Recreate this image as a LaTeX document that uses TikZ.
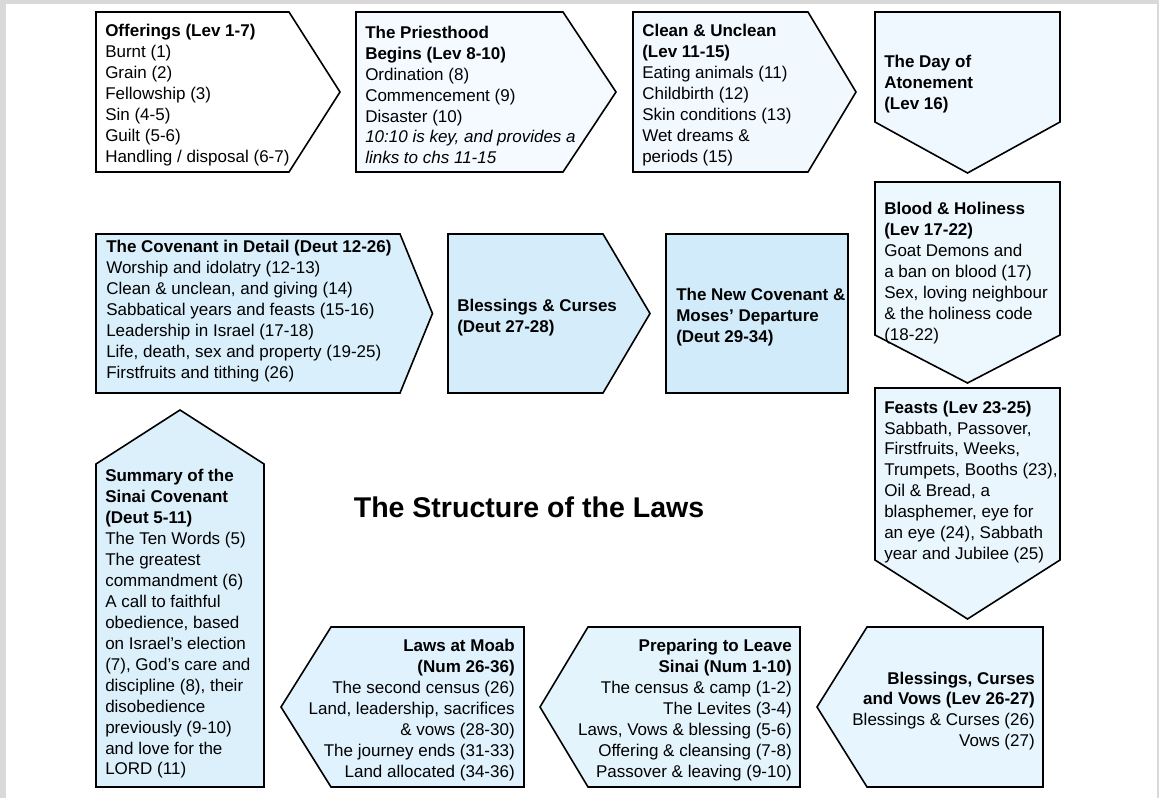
\documentclass[tikz,border=0pt]{standalone}
\usepackage{fontspec}
\setmainfont{Liberation Sans}
\definecolor{framegrey}{RGB}{217,217,217}
\definecolor{cA}{RGB}{255,255,255}
\definecolor{cB}{RGB}{244,250,255}
\definecolor{cC}{RGB}{241,249,255}
\definecolor{cD}{RGB}{239,248,255}
\definecolor{cE}{RGB}{237,247,254}
\definecolor{cF}{RGB}{234,246,254}
\definecolor{cG}{RGB}{231,245,254}
\definecolor{cH}{RGB}{228,244,253}
\definecolor{cI}{RGB}{224,242,253}
\definecolor{cJ}{RGB}{220,240,252}
\definecolor{cK}{RGB}{217,239,252}
\definecolor{cL}{RGB}{213,237,251}
\definecolor{cM}{RGB}{209,235,250}
\begin{document}
\begin{tikzpicture}[x=0.75pt,y=-0.75pt]
\tikzset{
  shp/.style={draw=black, line width=1.2pt, line join=miter},
  txtl/.style={inner sep=0pt, font=\fontsize{12.75pt}{15.7pt}\selectfont, align=left, anchor=west},
  txtr/.style={inner sep=0pt, font=\fontsize{12.75pt}{15.7pt}\selectfont, align=right, anchor=east},
  ttl/.style={inner sep=0pt, font=\fontsize{21.4pt}{25pt}\selectfont\bfseries}
}
\useasboundingbox (0,0) rectangle (1159,798);
\fill[framegrey] (0,0) rectangle (1159,798);
\fill[white] (6,4) rectangle (1157,798);

% top row
\draw[shp, fill=cA] (96,12) -- (289,12) -- (340,92) -- (289,172) -- (96,172) -- cycle;
\draw[shp, fill=cB] (356,12) -- (563,12) -- (616,92) -- (563,172) -- (356,172) -- cycle;
\draw[shp, fill=cC] (633,12) -- (808,12) -- (856,92) -- (808,172) -- (633,172) -- cycle;
\draw[shp, fill=cD] (875,12) -- (1060,12) -- (1060,122) -- (967.5,173) -- (875,122) -- cycle;
% right column
\draw[shp, fill=cE] (875,182) -- (1060,182) -- (1060,335) -- (967.5,383) -- (875,335) -- cycle;
\draw[shp, fill=cF] (875,388) -- (1060,388) -- (1060,560) -- (967.5,619) -- (875,560) -- cycle;
% bottom row
\draw[shp, fill=cG] (867,627) -- (1043,627) -- (1043,787) -- (867,787) -- (817,707) -- cycle;
\draw[shp, fill=cH] (588,627) -- (800,627) -- (800,787) -- (588,787) -- (540,707) -- cycle;
\draw[shp, fill=cI] (331,627) -- (524,627) -- (524,787) -- (331,787) -- (281,707) -- cycle;
% left column
\draw[shp, fill=cJ] (96,464) -- (180,410) -- (264,464) -- (264,787) -- (96,787) -- cycle;
% middle row
\draw[shp, fill=cK] (96,234) -- (400,234) -- (432.5,313.5) -- (400,393) -- (96,393) -- cycle;
\draw[shp, fill=cL] (448,234) -- (603,234) -- (650,313.5) -- (603,393) -- (448,393) -- cycle;
\draw[shp, fill=cM] (666,234) rectangle (848,393);

% texts
\node[txtl] (offerings) at (105,95) {\textbf{Offerings (Lev 1-7)}\\Burnt (1)\\Grain (2)\\Fellowship (3)\\Sin (4-5)\\Guilt (5-6)\\Handling / disposal (6-7)};
\node[txtl] (priesthood) at (365,95) {\textbf{The Priesthood}\\\textbf{Begins (Lev 8-10)}\\Ordination (8)\\Commencement (9)\\Disaster (10)\\\textit{10:10 is key, and provides a}\\\textit{links to chs 11-15}};
\node[txtl] (clean) at (642,95) {\textbf{Clean \& Unclean}\\\textbf{(Lev 11-15)}\\Eating animals (11)\\Childbirth (12)\\Skin conditions (13)\\Wet dreams \&\\periods (15)};
\node[txtl] (day) at (884,84) {\textbf{The Day of}\\\textbf{Atonement}\\\textbf{(Lev 16)}};
\node[txtl] (blood) at (884,273) {\textbf{Blood \& Holiness}\\\textbf{(Lev 17-22)}\\Goat Demons and\\a ban on blood (17)\\Sex, loving neighbour\\\& the holiness code\\(18-22)};
\node[txtl] (feasts) at (884,482) {\textbf{Feasts (Lev 23-25)}\\Sabbath, Passover,\\Firstfruits, Weeks,\\Trumpets, Booths (23),\\Oil \& Bread, a\\blasphemer, eye for\\an eye (24), Sabbath\\year and Jubilee (25)};
\node[txtr] (bcv) at (1035,711) {\textbf{Blessings, Curses}\\\textbf{and Vows (Lev 26-27)}\\Blessings \& Curses (26)\\Vows (27)};
\node[txtr] (preparing) at (792,710) {\textbf{Preparing to Leave}\\\textbf{Sinai (Num 1-10)}\\The census \& camp (1-2)\\The Levites (3-4)\\Laws, Vows \& blessing (5-6)\\Offering \& cleansing (7-8)\\Passover \& leaving (9-10)};
\node[txtr] (moab) at (515,710) {\textbf{Laws at Moab}\\\textbf{(Num 26-36)}\\The second census (26)\\Land, leadership, sacrifices\\\& vows (28-30)\\The journey ends (31-33)\\Land allocated (34-36)};
\node[txtl] (summary) at (105,624) {\textbf{Summary of the}\\\textbf{Sinai Covenant}\\\textbf{(Deut 5-11)}\\The Ten Words (5)\\The greatest\\commandment (6)\\A call to faithful\\obedience, based\\on Israel’s election\\(7), God’s care and\\discipline (8), their\\disobedience\\previously (9-10)\\and love for the\\LORD (11)};
\node[txtl] (covenant) at (106,311) {\textbf{The Covenant in Detail (Deut 12-26)}\\Worship and idolatry (12-13)\\Clean \& unclean, and giving (14)\\Sabbatical years and feasts (15-16)\\Leadership in Israel (17-18)\\Life, death, sex and property (19-25)\\Firstfruits and tithing (26)};
\node[txtl] (blessings) at (457,318) {\textbf{Blessings \& Curses}\\\textbf{(Deut 27-28)}};
\node[txtl] (newcov) at (676,317) {\textbf{The New Covenant \&}\\\textbf{Moses’ Departure}\\\textbf{(Deut 29-34)}};
\node[ttl] (title) at (529,507) {The Structure of the Laws};
\end{tikzpicture}
\end{document}
